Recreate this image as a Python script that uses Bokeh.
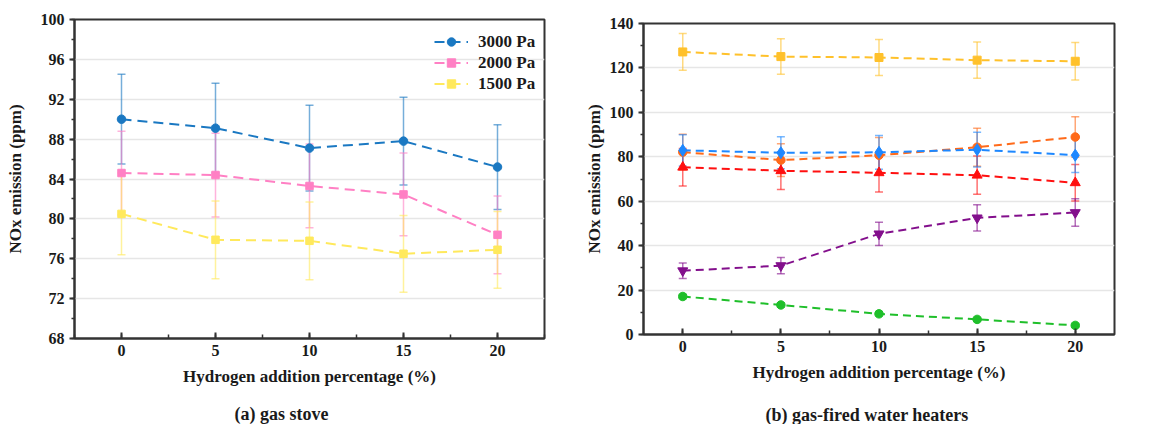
from bokeh.plotting import figure
from bokeh.models import (Range1d, SingleIntervalTicker, Whisker, TeeHead,
                          ColumnDataSource, Legend, LegendItem)
from bokeh.core.properties import value
from bokeh.layouts import row, column
from bokeh.embed import file_html
from bokeh.resources import INLINE

# ---------------------------------------------------------------- data
h2_pct = [0, 5, 10, 15, 20]

# (a) gas stove, NOx (ppm) at three gas supply pressures
stove_labels = ["3000 Pa", "2000 Pa", "1500 Pa"]
stove_3000 = [90.0, 89.1, 87.1, 87.8, 85.2]
stove_3000_err = [4.5, 4.5, 4.3, 4.4, 4.25]
stove_2000 = [84.6, 84.4, 83.3, 82.45, 78.4]
stove_2000_err = [4.2, 4.2, 4.2, 4.15, 3.9]
stove_1500 = [80.5, 77.9, 77.8, 76.5, 76.9]
stove_1500_err = [4.1, 3.9, 3.9, 3.85, 3.85]

# (b) gas-fired water heaters, NOx (ppm) for six appliances
heater_labels = ["A", "B", "C", "D", "E", "F"]
heater_A = [127.2, 125.1, 124.7, 123.5, 123.0]
heater_A_err = [8.3, 8.0, 8.1, 8.2, 8.4]
heater_B = [82.1, 78.5, 80.7, 84.3, 88.9]
heater_B_err = [8.0, 7.4, 8.0, 8.6, 9.1]
heater_C = [75.3, 73.7, 72.8, 71.7, 68.3]
heater_C_err = [8.4, 8.4, 8.6, 8.6, 8.2]
heater_D = [28.7, 31.0, 45.3, 52.5, 54.9]
heater_D_err = [3.5, 3.7, 5.2, 5.9, 6.2]
heater_E = [82.9, 81.8, 82.0, 83.2, 80.7]
heater_E_err = [7.0, 7.2, 7.6, 7.8, 7.8]
heater_F = [17.1, 13.3, 9.3, 6.8, 4.1]
heater_F_err = [1.0, 1.0, 1.0, 1.0, 1.0]

captions = ["(a) gas stove", "(b) gas-fired water heaters"]

FONT = "Liberation Serif"
INK = "#333333"
CAPTION_H = 32


def base_figure(width, height, xr, yr, y_step, borders):
    left, right, top, bottom = borders
    p = figure(width=width, height=height, x_range=Range1d(*xr), y_range=Range1d(*yr),
               output_backend="svg", toolbar_location=None,
               min_border_left=left, min_border_right=right,
               min_border_top=top, min_border_bottom=bottom,
               background_fill_color="white", border_fill_color="white")
    p.outline_line_color = INK
    p.outline_line_width = 2
    p.xgrid.visible = False
    p.ygrid.grid_line_color = "#e6e6e6"
    p.ygrid.grid_line_width = 1.5

    p.xaxis.ticker = SingleIntervalTicker(interval=5, num_minor_ticks=2)
    p.yaxis.ticker = SingleIntervalTicker(interval=y_step, num_minor_ticks=2)

    for ax in (p.xaxis, p.yaxis):
        ax.axis_line_color = INK
        ax.axis_line_width = 2
        ax.major_tick_line_color = INK
        ax.major_tick_line_width = 2
        ax.minor_tick_line_color = INK
        ax.minor_tick_line_width = 1.5
        ax.major_label_text_font = FONT
        ax.major_label_text_font_size = "16px"
        ax.major_label_text_font_style = "bold"
        ax.major_label_text_color = "#1a1a1a"
        ax.axis_label_text_font = FONT
        ax.axis_label_text_font_size = "17px"
        ax.axis_label_text_font_style = "bold"
        ax.axis_label_text_color = "#1a1a1a"

    p.xaxis.major_tick_in = 6
    p.xaxis.major_tick_out = 0
    p.xaxis.minor_tick_in = 4
    p.xaxis.minor_tick_out = 0
    p.xaxis.major_label_standoff = 6
    p.xaxis.axis_label_standoff = 8
    p.xaxis.axis_label = "Hydrogen addition percentage (%)"

    p.yaxis.major_tick_in = 0
    p.yaxis.major_tick_out = 5
    p.yaxis.minor_tick_in = 0
    p.yaxis.minor_tick_out = 3
    p.yaxis.major_label_standoff = 5
    p.yaxis.axis_label = "NOx emission (ppm)"
    return p


def add_series(p, y, err, color, marker, size, dash):
    lo = [v - e for v, e in zip(y, err)]
    hi = [v + e for v, e in zip(y, err)]
    src = ColumnDataSource(dict(x=h2_pct, lower=lo, upper=hi))
    head = dict(size=8, line_color=color, line_alpha=0.6, line_width=1.5)
    p.add_layout(Whisker(base="x", lower="lower", upper="upper", source=src,
                         line_color=color, line_alpha=0.6, line_width=1.5,
                         upper_head=TeeHead(**head), lower_head=TeeHead(**head)))
    ln = p.line(h2_pct, y, line_color=color, line_width=2, line_dash=dash)
    sc = p.scatter(h2_pct, y, marker=marker, size=size, fill_color=color,
                   line_color=color)
    return [ln, sc]


def style_legend(leg, glyph_w, standoff):
    leg.border_line_color = None
    leg.background_fill_alpha = 0
    leg.padding = 0
    leg.margin = 0
    leg.spacing = 0
    leg.glyph_width = glyph_w
    leg.glyph_height = 21
    leg.label_height = 21
    leg.label_standoff = standoff
    leg.label_text_font = FONT
    leg.label_text_font_size = "17px"
    leg.label_text_font_style = "bold"
    leg.label_text_color = "#1a1a1a"


def caption_strip(plot, text, dx, dy):
    """A thin axis-less strip under a plot, sharing its horizontal borders,
    that carries the sub-figure caption dx px from the frame's left edge and
    dy px above the strip's bottom."""
    fw = plot.width - plot.min_border_left - plot.min_border_right
    c = figure(width=plot.width, height=CAPTION_H, x_range=Range1d(0, fw),
               y_range=Range1d(0, CAPTION_H), output_backend="svg",
               toolbar_location=None, x_axis_type=None, y_axis_type=None,
               min_border_left=plot.min_border_left, min_border_right=plot.min_border_right,
               min_border_top=0, min_border_bottom=0)
    c.outline_line_color = None
    c.grid.visible = False
    c.text(x=[dx], y=[dy], text=[text], text_align="left", text_baseline="middle",
           text_font=value(FONT), text_font_size="18px", text_font_style="bold",
           text_color="#1a1a1a")
    return c


# ---------------------------------------------------------------- (a) gas stove
pa = base_figure(580, 424 - CAPTION_H, (-2.5, 22.5), (68, 100), 4, (74, 36, 19, 54))
pa.yaxis.axis_label_standoff = 13
stove_series = [
    (stove_3000, stove_3000_err, "#1a78c2", "circle", 8.5),
    (stove_2000, stove_2000_err, "#ff80c4", "square", 7.5),
    (stove_1500, stove_1500_err, "#ffe95c", "square", 7.5),
]
items_a = []
for lbl, (y, err, col, mk, sz) in zip(stove_labels, stove_series):
    items_a.append(LegendItem(label=lbl, renderers=add_series(pa, y, err, col, mk, sz, "10 6")))
leg_a = Legend(items=items_a, location=(360, 244))
style_legend(leg_a, 34, 10)
pa.add_layout(leg_a)
cap_a = caption_strip(pa, captions[0], 160, 11)

# ---------------------------------------------------------------- (b) water heaters
pb = base_figure(593, 424 - CAPTION_H, (-2, 22), (0, 140), 20, (63, 59, 23, 58))
pb.yaxis.axis_label_standoff = 3
heater_series = [
    (heater_A, heater_A_err, "#ffc12b", "square", 8),
    (heater_B, heater_B_err, "#ff6a1a", "circle", 8.5),
    (heater_C, heater_C_err, "#ff1010", "triangle", 10),
    (heater_D, heater_D_err, "#830f8c", "inverted_triangle", 10),
    (heater_E, heater_E_err, "#1e88ff", "diamond", 12),
    (heater_F, heater_F_err, "#1fbf2a", "circle", 8.5),
]
items_b = []
for lbl, (y, err, col, mk, sz) in zip(heater_labels, heater_series):
    items_b.append(LegendItem(label=lbl, renderers=add_series(pb, y, err, col, mk, sz, "8 5")))
leg_b = Legend(items=items_b, location=(483, 101))
style_legend(leg_b, 30, 14)
pb.add_layout(leg_b)
cap_b = caption_strip(pb, captions[1], 122, 10)

layout = row(column(pa, cap_a, spacing=0), column(pb, cap_b, spacing=0), spacing=0)
open("out.html", "w").write(file_html(layout, INLINE))
